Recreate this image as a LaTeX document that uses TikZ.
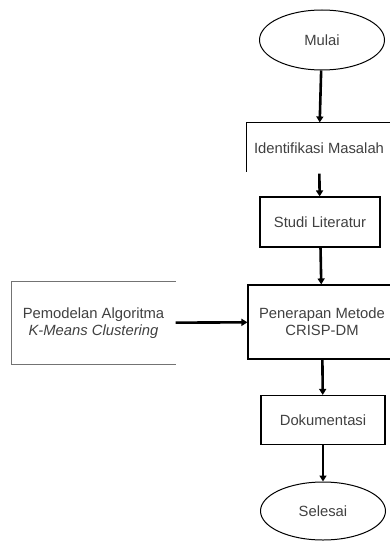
\documentclass[tikz,border=0pt]{standalone}
\usepackage{fontspec}
\setmainfont{Liberation Sans}
\usetikzlibrary{arrows.meta,shapes.geometric}

\tikzset{
    langkah/.style={rectangle, draw, line width=1.1pt, minimum width=120pt, minimum height=50pt, align=center, text=black!75},
    terminal/.style={ellipse, draw, line width=1pt, minimum width=125pt, minimum height=60pt, inner sep=0pt, text=black!75},
    alur/.style={line width=2.6pt, -{Triangle[length=6pt,width=7pt]}},
}

\begin{document}
\begin{tikzpicture}[x=1pt, y=-1pt, font=\fontsize{14.8pt}{17pt}\selectfont]
        \clip (0,0) rectangle (390,543);

        \node[terminal] (mulai) at (322,40) {Mulai};
        \node[langkah, draw=none, minimum width=144pt, inner sep=0pt] (identifikasi) at (319,148) {Identifikasi Masalah};
        \node[langkah] (studi) at (320,222) {Studi Literatur};
        \node[langkah, minimum width=148pt, minimum height=74pt, inner sep=0pt] (penerapan) at (322,322) {Penerapan Metode\\CRISP-DM};
        \node[langkah, draw=none, minimum width=163pt, minimum height=82pt, inner sep=0pt] (pemodelan) at (93.5,323) {Pemodelan Algoritma\\\textit{K-Means Clustering}};
        \node[langkah, minimum width=124pt, minimum height=49pt] (dokumentasi) at (323,420) {Dokumentasi};
        \node[terminal, minimum height=58pt] (selesai) at (323,511) {Selesai};

        % sisi kotak yang tampak
        \draw[line width=1pt] (identifikasi.north east) -- (identifikasi.north west) -- ++(0,50);
        \draw[line width=1.4pt, black!55] (pemodelan.north east) -- (pemodelan.north west) -- (pemodelan.south west) -- (pemodelan.south east);

        \draw[alur] (mulai) -- (identifikasi);
        \draw[alur] (identifikasi) -- (studi);
        \draw[alur] (studi) -- (penerapan);
        \draw[alur] (pemodelan) -- (penerapan);
        \draw[alur] (penerapan) -- (dokumentasi);
        \draw[alur] (dokumentasi) -- (selesai);
\end{tikzpicture}
\end{document}
